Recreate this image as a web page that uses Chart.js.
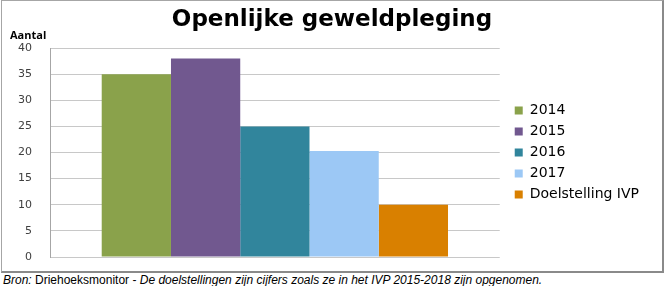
<!DOCTYPE html>
<html>
<head>
<meta charset="utf-8">
<script src="https://cdn.jsdelivr.net/npm/chart.js@4.4.1/dist/chart.umd.min.js"></script>
<style>
    body { margin: 0; background: #fff; width: 666px; height: 286px; overflow: hidden; position: relative; }
    #frame {
        position: absolute; left: 1px; top: 0;
        width: 660px; height: 270px;
        border-left: 1px solid #a6a6a6; border-top: 1px solid #a6a6a6;
        border-right: 2px solid #8a8a8a; border-bottom: 2px solid #8a8a8a;
    }
    #chart { display: block; }
    #yLabel {
        position: absolute; left: 10px; top: 27px;
        font-family: "Open Sans", sans-serif; font-size: 11px; font-weight: bold; color: #000;
    }
    #source {
        position: absolute; left: 3px; top: 273px;
        font-family: "Liberation Sans", Arial, sans-serif; font-size: 12px; color: #000;
        white-space: nowrap;
    }
</style>
</head>
<body>
<div id="frame"><canvas id="chart" width="660" height="270"></canvas></div>
<div id="yLabel">Aantal</div>
<div id="source"><i>Bron:</i> Driehoeksmonitor - <i>De doelstellingen zijn cijfers zoals ze in het IVP 2015-2018 zijn opgenomen.</i></div>

<script>
// Chart data
const seriesLabels = ['2014', '2015', '2016', '2017', 'Doelstelling IVP'];
const seriesValues = [35, 38, 25, 20.3, 10];
const seriesColors = ['#8aa24b', '#71588f', '#31859c', '#9cc8f5', '#d98000'];
const yTicks = [0, 5, 10, 15, 20, 25, 30, 35, 40];

// One dataset per series, all in a single category
const datasets = seriesLabels.map((label, i) => ({
    label: label,
    data: [seriesValues[i]],
    backgroundColor: seriesColors[i],
    borderWidth: 0,
    categoryPercentage: 0.77,
    barPercentage: 1
}));

const ctx = document.getElementById('chart').getContext('2d');
const chart = new Chart(ctx, {
    type: 'bar',
    data: {
        labels: [''],
        datasets: datasets
    },
    options: {
        responsive: false,
        animation: false,
        layout: {
            padding: { left: 13, right: 13, top: 0, bottom: 14 }
        },
        plugins: {
            title: {
                display: true,
                text: 'Openlijke geweldpleging',
                color: '#000',
                font: { family: 'DejaVu Sans', size: 23, weight: 'bold', lineHeight: 1 },
                padding: { top: 8, bottom: 16 }
            },
            legend: {
                position: 'right',
                align: 'center',
                fullSize: false,
                maxWidth: 220,
                labels: {
                    boxWidth: 8,
                    boxHeight: 8,
                    padding: 7,
                    color: '#000',
                    font: { family: 'DejaVu Sans', size: 14 }
                }
            },
            tooltip: { enabled: false }
        },
        scales: {
            x: {
                display: false
            },
            y: {
                min: 0,
                max: 40,
                afterFit: function(scale) {
                    // fixed axis width, and keep tick padding out of the vertical margins
                    scale.width = 35;
                    scale.paddingTop = 0;
                    scale.paddingBottom = 0;
                },
                afterBuildTicks: function(scale) {
                    scale.ticks = yTicks.map(v => ({ value: v }));
                },
                ticks: {
                    padding: 18,
                    color: '#404040',
                    font: { family: 'DejaVu Sans', size: 11 }
                },
                grid: {
                    color: '#c8c8c8',
                    drawTicks: false
                },
                border: {
                    color: '#a6a6a6'
                }
            },
            // empty spacer between plot and legend
            gap: {
                position: 'right',
                display: true,
                afterFit: function(scale) {
                    scale.width = 8;
                },
                ticks: { display: false },
                grid: { display: false },
                border: { display: false }
            }
        }
    }
});
</script>
</body>
</html>
